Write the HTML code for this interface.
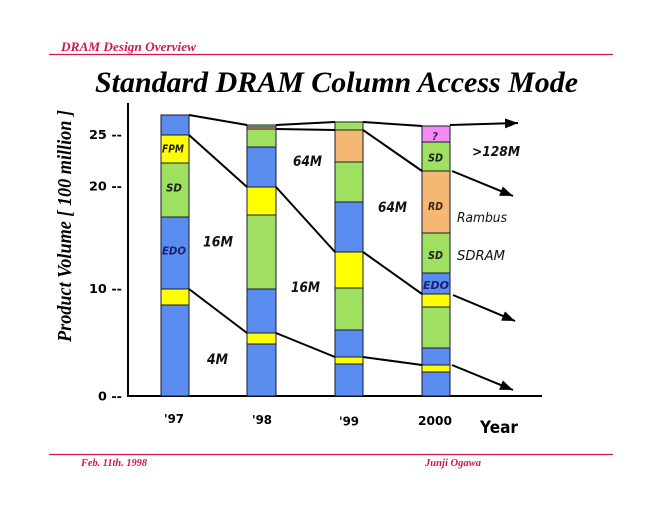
<!DOCTYPE html>
<html><head><meta charset="utf-8">
<style>
html,body{margin:0;padding:0;background:#fff;}
svg{display:block;}
.s{font-family:"DejaVu Sans","Liberation Sans",sans-serif;font-weight:bold;}
.si{font-family:"DejaVu Sans","Liberation Sans",sans-serif;font-weight:bold;font-style:italic;}
.t{font-family:"Liberation Serif",serif;font-weight:bold;font-style:italic;}
</style></head>
<body>
<svg width="660" height="510" viewBox="0 0 660 510" xmlns="http://www.w3.org/2000/svg">
<defs>
<marker id="ah" markerUnits="userSpaceOnUse" markerWidth="13" markerHeight="10" refX="13" refY="5" orient="auto">
<path d="M0,0 L13,5 L0,10 z" fill="#000"/>
</marker>
</defs>
<rect width="660" height="510" fill="#fff"/>

<!-- header -->
<text class="t" x="61" y="51" font-size="13" fill="#d0184a" textLength="135" lengthAdjust="spacingAndGlyphs">DRAM Design Overview</text>
<line x1="49" y1="54.5" x2="613" y2="54.5" stroke="#d0184a" stroke-width="1.3"/>
<text class="t" x="95" y="92" font-size="30" fill="#000" textLength="483" lengthAdjust="spacingAndGlyphs">Standard DRAM Column Access Mode</text>

<!-- footer -->
<line x1="49" y1="454.5" x2="613" y2="454.5" stroke="#d0184a" stroke-width="1.3"/>
<text class="t" x="81" y="466" font-size="10" fill="#d0184a" textLength="66" lengthAdjust="spacingAndGlyphs">Feb. 11th. 1998</text>
<text class="t" x="425" y="466" font-size="10" fill="#d0184a" textLength="56" lengthAdjust="spacingAndGlyphs">Junji  Ogawa</text>

<!-- y axis label -->
<text class="t" transform="translate(71,342) rotate(-90)" x="0" y="0" font-size="20" fill="#000" textLength="232" lengthAdjust="spacingAndGlyphs">Product Volume [ 100 million ]</text>

<!-- axes -->
<line x1="128" y1="103" x2="128" y2="397" stroke="#000" stroke-width="2"/>
<line x1="127" y1="396" x2="542" y2="396" stroke="#000" stroke-width="2"/>

<!-- tick labels -->
<text class="s" x="89" y="139" font-size="12" textLength="33" lengthAdjust="spacingAndGlyphs">25 --</text>
<text class="s" x="89" y="190.5" font-size="12" textLength="33" lengthAdjust="spacingAndGlyphs">20 --</text>
<text class="s" x="89" y="293" font-size="12" textLength="33" lengthAdjust="spacingAndGlyphs">10 --</text>
<text class="s" x="98" y="400.5" font-size="12" textLength="24" lengthAdjust="spacingAndGlyphs">0 --</text>

<!-- bars -->
<g stroke="#1a1a30" stroke-width="1">
<!-- '97 -->
<rect x="161" y="115" width="28" height="20" fill="#5b8cf0"/>
<rect x="161" y="135" width="28" height="28" fill="#ffff00"/>
<rect x="161" y="163" width="28" height="54" fill="#a0e060"/>
<rect x="161" y="217" width="28" height="72" fill="#5b8cf0"/>
<rect x="161" y="289" width="28" height="16" fill="#ffff00"/>
<rect x="161" y="305" width="28" height="91" fill="#5b8cf0"/>
<!-- '98 -->
<rect x="247" y="125" width="29" height="2" fill="#a0e060"/>
<rect x="247" y="127" width="29" height="2" fill="#f5b872"/>
<rect x="247" y="129" width="29" height="18" fill="#a0e060"/>
<rect x="247" y="147" width="29" height="40" fill="#5b8cf0"/>
<rect x="247" y="187" width="29" height="28" fill="#ffff00"/>
<rect x="247" y="215" width="29" height="74" fill="#a0e060"/>
<rect x="247" y="289" width="29" height="44" fill="#5b8cf0"/>
<rect x="247" y="333" width="29" height="11" fill="#ffff00"/>
<rect x="247" y="344" width="29" height="52" fill="#5b8cf0"/>
<!-- '99 -->
<rect x="335" y="122" width="28" height="8" fill="#a0e060"/>
<rect x="335" y="130" width="28" height="32" fill="#f5b872"/>
<rect x="335" y="162" width="28" height="40" fill="#a0e060"/>
<rect x="335" y="202" width="28" height="50" fill="#5b8cf0"/>
<rect x="335" y="252" width="28" height="36" fill="#ffff00"/>
<rect x="335" y="288" width="28" height="42" fill="#a0e060"/>
<rect x="335" y="330" width="28" height="27" fill="#5b8cf0"/>
<rect x="335" y="357" width="28" height="7" fill="#ffff00"/>
<rect x="335" y="364" width="28" height="32" fill="#5b8cf0"/>
<!-- 2000 -->
<rect x="422" y="126" width="28" height="16" fill="#f48cf4"/>
<rect x="422" y="142" width="28" height="29" fill="#a0e060"/>
<rect x="422" y="171" width="28" height="62" fill="#f5b872"/>
<rect x="422" y="233" width="28" height="40" fill="#a0e060"/>
<rect x="422" y="273" width="28" height="21" fill="#5b8cf0"/>
<rect x="422" y="294" width="28" height="13" fill="#ffff00"/>
<rect x="422" y="307" width="28" height="41" fill="#a0e060"/>
<rect x="422" y="348" width="28" height="17" fill="#5b8cf0"/>
<rect x="422" y="365" width="28" height="7" fill="#ffff00"/>
<rect x="422" y="372" width="28" height="24" fill="#5b8cf0"/>
</g>

<!-- connecting lines -->
<g stroke="#000" stroke-width="2" fill="none">
<line x1="189" y1="115" x2="247" y2="125"/>
<line x1="276" y1="125" x2="335" y2="122"/>
<line x1="363" y1="122" x2="422" y2="126"/>
<line x1="450" y1="125" x2="518" y2="123" marker-end="url(#ah)"/>

<line x1="276" y1="129" x2="335" y2="130"/>
<line x1="363" y1="130" x2="422" y2="171"/>
<line x1="452" y1="171" x2="513" y2="196" marker-end="url(#ah)"/>

<line x1="189" y1="135" x2="247" y2="187"/>
<line x1="276" y1="187" x2="335" y2="252"/>
<line x1="363" y1="252" x2="422" y2="294"/>
<line x1="453" y1="295" x2="515" y2="321" marker-end="url(#ah)"/>

<line x1="189" y1="289" x2="247" y2="333"/>
<line x1="276" y1="333" x2="335" y2="357"/>
<line x1="363" y1="357" x2="422" y2="365"/>
<line x1="452" y1="365" x2="513" y2="390" marker-end="url(#ah)"/>
</g>

<!-- bar labels -->
<text class="si" x="162" y="152.5" font-size="11" fill="#222" textLength="22" lengthAdjust="spacingAndGlyphs">FPM</text>
<text class="si" x="166" y="191.5" font-size="11" fill="#222" textLength="16" lengthAdjust="spacingAndGlyphs">SD</text>
<text class="si" x="162" y="254.5" font-size="11" fill="#1a2270" textLength="24" lengthAdjust="spacingAndGlyphs">EDO</text>

<text class="si" x="432" y="140" font-size="11" fill="#402060" textLength="6" lengthAdjust="spacingAndGlyphs">?</text>
<text class="si" x="428" y="161.5" font-size="11" fill="#222" textLength="15" lengthAdjust="spacingAndGlyphs">SD</text>
<text class="si" x="428" y="210" font-size="11" fill="#402818" textLength="15" lengthAdjust="spacingAndGlyphs">RD</text>
<text class="si" x="428" y="259" font-size="11" fill="#222" textLength="15" lengthAdjust="spacingAndGlyphs">SD</text>
<text class="si" x="423" y="289" font-size="11" fill="#1a2270" textLength="26" lengthAdjust="spacingAndGlyphs">EDO</text>

<!-- density labels -->
<text class="si" x="203" y="246.5" font-size="14" fill="#111" textLength="30" lengthAdjust="spacingAndGlyphs">16M</text>
<text class="si" x="207" y="364" font-size="14" fill="#111" textLength="21" lengthAdjust="spacingAndGlyphs">4M</text>
<text class="si" x="293" y="166" font-size="14" fill="#111" textLength="29" lengthAdjust="spacingAndGlyphs">64M</text>
<text class="si" x="291" y="292" font-size="14" fill="#111" textLength="29" lengthAdjust="spacingAndGlyphs">16M</text>
<text class="si" x="378" y="212" font-size="14" fill="#111" textLength="29" lengthAdjust="spacingAndGlyphs">64M</text>
<text class="si" x="472" y="156" font-size="13" fill="#111" textLength="48" lengthAdjust="spacingAndGlyphs">&gt;128M</text>
<text x="457" y="222" font-family="DejaVu Sans, Liberation Sans, sans-serif" font-style="italic" font-size="13" fill="#111" textLength="50" lengthAdjust="spacingAndGlyphs">Rambus</text>
<text x="457" y="260" font-family="DejaVu Sans, Liberation Sans, sans-serif" font-style="italic" font-size="13" fill="#111" textLength="48" lengthAdjust="spacingAndGlyphs">SDRAM</text>

<!-- x labels -->
<text class="s" x="164" y="423" font-size="12" textLength="20" lengthAdjust="spacingAndGlyphs">'97</text>
<text class="s" x="252" y="424" font-size="12" textLength="20" lengthAdjust="spacingAndGlyphs">'98</text>
<text class="s" x="339" y="425.5" font-size="12" textLength="20" lengthAdjust="spacingAndGlyphs">'99</text>
<text class="s" x="418" y="425" font-size="12" textLength="34" lengthAdjust="spacingAndGlyphs">2000</text>
<text class="s" x="480" y="433" font-size="17" textLength="38" lengthAdjust="spacingAndGlyphs">Year</text>
</svg>
</body></html>
